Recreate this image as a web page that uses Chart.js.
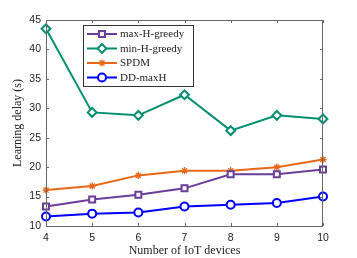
<!DOCTYPE html>
<html>
<head>
<meta charset="utf-8">
<script src="https://cdn.jsdelivr.net/npm/chart.js@4"></script>
<style>
  html, body { margin: 0; padding: 0; background: #fff; }
  #wrap { position: relative; width: 357px; height: 258px; }
</style>
</head>
<body>
<div id="wrap"><canvas id="delay"></canvas></div>
<script>
// data
const devices = ['4', '5', '6', '7', '8', '9', '10']
const maxHGreedy = [13.3, 14.5, 15.3, 16.4, 18.8, 18.8, 19.6]
const minHGreedy = [43.5, 29.3, 28.8, 32.3, 26.2, 28.8, 28.2]
const spdm = [16.1, 16.8, 18.6, 19.4, 19.4, 20.0, 21.3]
const ddMaxH = [11.6, 12.1, 12.3, 13.3, 13.6, 13.9, 15.0]
const yTicks = [10, 15, 20, 25, 30, 35, 40, 45]

const serif = '"Liberation Serif", "Times New Roman", serif'
const sans = '"Liberation Sans", Arial, sans-serif'

// box + inward ticks on all four sides
const boxTicks = {
	id: 'boxTicks',
	afterDatasetsDraw(chart) {
		const { ctx, chartArea: a, scales } = chart
		ctx.save()
		ctx.strokeStyle = '#666'
		ctx.lineWidth = 1
		ctx.strokeRect(a.left + 0.5, a.top + 0.5, a.right - a.left - 1, a.bottom - a.top)
		const len = 3
		ctx.beginPath()
		devices.forEach((d, i) => {
			const x = Math.round(scales.x.getPixelForValue(i)) + 0.5
			ctx.moveTo(x, a.bottom); ctx.lineTo(x, a.bottom - len)
			ctx.moveTo(x, a.top); ctx.lineTo(x, a.top + len)
		})
		yTicks.forEach((v) => {
			const y = Math.round(scales.y.getPixelForValue(v)) + 0.5
			ctx.moveTo(a.left, y); ctx.lineTo(a.left + len, y)
			ctx.moveTo(a.right, y); ctx.lineTo(a.right - len, y)
		})
		ctx.stroke()
		ctx.restore()
	},
}

// legend drawn in the upper left of the plot, MATLAB style
const boxLegend = {
	id: 'boxLegend',
	afterDraw(chart) {
		const { ctx, chartArea: a } = chart
		const x0 = a.left + 37, y0 = a.top + 5, w = 110, h = 61
		ctx.save()
		ctx.fillStyle = '#fff'
		ctx.fillRect(x0, y0, w, h)
		ctx.strokeStyle = '#333'
		ctx.lineWidth = 1
		ctx.strokeRect(x0 + 0.5, y0 + 0.5, w, h)
		ctx.font = '11px ' + serif
		ctx.textBaseline = 'middle'
		chart.data.datasets.forEach((ds, i) => {
			const y = y0 + 9 + i * 14.5
			ctx.strokeStyle = ds.borderColor
			ctx.lineWidth = ds.borderWidth
			ctx.beginPath()
			ctx.moveTo(x0 + 4, y); ctx.lineTo(x0 + 34, y)
			ctx.stroke()
			ctx.fillStyle = '#fff'
			ctx.strokeStyle = ds.borderColor
			ctx.lineWidth = ds.pointBorderWidth
			Chart.helpers.drawPoint(ctx, {
				pointStyle: ds.pointStyle,
				radius: ds.pointRadius,
				borderWidth: ds.pointBorderWidth,
			}, x0 + 19, y)
			ctx.fillStyle = '#222'
			ctx.fillText(ds.label, x0 + 37, y + 0.5)
		})
		ctx.restore()
	},
}

function series(label, data, color, style, radius, bw) {
	return {
		label: label,
		data: data,
		borderColor: color,
		backgroundColor: '#fff',
		borderWidth: 2,
		pointStyle: style,
		pointRadius: radius,
		pointBorderWidth: bw,
		pointBackgroundColor: '#fff',
		pointBorderColor: color,
		tension: 0,
	}
}

new Chart(document.getElementById('delay'), {
	type: 'line',
	data: {
		labels: devices,
		datasets: [
			series('max-H-greedy', maxHGreedy, '#6a3d9a', 'rect', 4.2, 2),
			series('min-H-greedy', minHGreedy, '#008f70', 'rectRot', 4.4, 2),
			series('SPDM', spdm, '#e8681a', 'star', 3.6, 1.3),
			series('DD-maxH', ddMaxH, '#0000ff', 'circle', 4, 2),
		],
	},
	options: {
		responsive: true,
		maintainAspectRatio: false,
		animation: false,
		layout: { padding: { top: 20, right: 34, left: 0, bottom: 0 } },
		plugins: { legend: { display: false }, tooltip: { enabled: false } },
		scales: {
			x: {
				type: 'category',
				offset: false,
				grid: { display: false, drawTicks: false },
				border: { display: false },
				ticks: { color: '#222', font: { family: sans, size: 10.5 }, padding: 6, maxRotation: 0 },
				title: { display: true, text: 'Number of IoT devices', color: '#222', font: { family: serif, size: 12 }, padding: { top: 0, bottom: 0 } },
				afterFit(scale) { scale.height = 32 },
			},
			y: {
				min: 10,
				max: 45,
				grid: { display: false, drawTicks: false },
				border: { display: false },
				ticks: { stepSize: 5, color: '#222', font: { family: sans, size: 10.5 }, padding: 5 },
				title: { display: true, text: 'Learning delay (s)', color: '#222', font: { family: serif, size: 12 }, padding: { top: 11, bottom: 0 } },
				afterFit(scale) { scale.width = 46 },
			},
		},
	},
	plugins: [boxTicks, boxLegend],
})
</script>
</body>
</html>
